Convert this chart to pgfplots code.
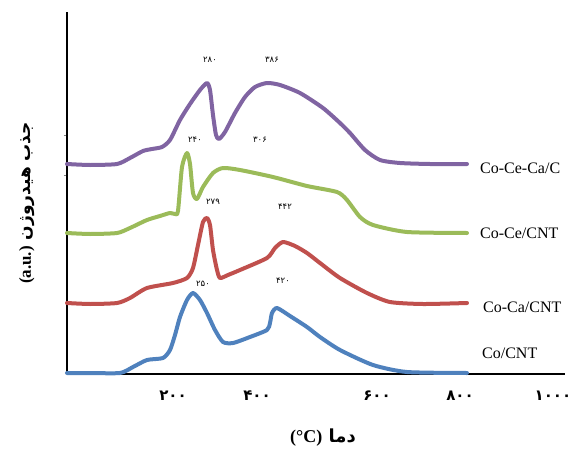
\documentclass[border=0pt]{standalone}
\usepackage{fontspec}
\setmainfont{Liberation Serif}
\newfontfamily\arabicfont[Script=Arabic]{DejaVu Sans}
\TeXXeTstate=1
\usepackage{pgfplots}
\pgfplotsset{compat=1.18}
\definecolor{cpurple}{HTML}{8064A2}
\definecolor{cgreen}{HTML}{9BBB59}
\definecolor{cred}{HTML}{C0504D}
\definecolor{cblue}{HTML}{4F81BD}
\begin{document}
\begin{tikzpicture}
\useasboundingbox (-67pt,-74pt) rectangle (507pt,374pt);
\begin{axis}[
  at={(0,0)}, anchor=south west, scale only axis,
  width=498pt, height=362pt,
  xmin=67, xmax=565, ymin=0, ymax=362,
  axis x line*=bottom, axis y line*=left,
  axis line style={line width=1.5pt, -},
  xtick={173,257,377,460,553},
  xticklabels={۲۰۰,۴۰۰,۶۰۰,۸۰۰,۱۰۰۰},
  xticklabel style={font=\arabicfont\bfseries\fontsize{15}{15}\selectfont, anchor=center, yshift=-19pt},
  xtick style={draw=none},
  ytick={199,239}, yticklabels={,}, ytick style={gray, thin},
  tick align=outside, major tick length=3pt,
  clip=false,
  every axis plot/.append style={line width=4pt, smooth, tension=0.4, mark=none, line join=round, line cap=round},
]
% Co-Ce-Ca/C
\addplot[cpurple] coordinates {(67,210)(90,209)(117,210)(130,216)(143,223)(152,225)(162,227)(170,234)(180,254)(190,270)(200,284)(207,291)(210,284)(213,259)(216,239)(219,235)(225,242)(235,261)(245,277)(255,287)(267,291)(280,289)(300,281)(323,266)(340,251)(350,241)(365,224)(380,214)(400,211)(430,210)(467,210)};
% Co-Ce/CNT
\addplot[cgreen] coordinates {(67,141)(90,140)(117,141)(130,146)(147,154)(160,158)(170,161)(175,160)(178,163)(182,207)(187,221)(190,210)(193,181)(197,175)(203,187)(213,201)(223,206)(240,204)(273,197)(307,188)(337,182)(347,174)(360,157)(373,149)(407,142)(467,141)};
% Co-Ca/CNT
\addplot[cred] coordinates {(67,71)(90,70)(117,71)(130,76)(147,86)(173,91)(187,96)(193,106)(198,129)(203,152)(207,156)(210,149)(213,124)(217,104)(220,96)(228,99)(240,104)(267,116)(275,126)(283,132)(295,128)(307,121)(320,111)(340,96)(367,81)(390,72)(423,70)(467,71)};
% Co/CNT
\addplot[cblue] coordinates {(67,1)(90,1)(120,1)(133,7)(147,14)(163,16)(170,24)(175,39)(180,57)(187,74)(193,81)(200,74)(207,61)(215,44)(223,32)(233,31)(250,37)(267,44)(270,51)(272,61)(277,66)(290,58)(307,47)(320,37)(340,24)(373,9)(407,2)(467,1)};

% series names
\begin{scope}[every node/.style={font=\fontsize{16}{16}\selectfont, anchor=west, inner sep=0pt}]
\node at (axis cs:480,206) {Co-Ce-Ca/C};
\node at (axis cs:480,141) {Co-Ce/CNT};
\node at (axis cs:483,67) {Co-Ca/CNT};
\node at (axis cs:482,21) {Co/CNT};
\end{scope}

% peak temperatures
\begin{scope}[every node/.style={font=\arabicfont\fontsize{8.5}{8.5}\selectfont, inner sep=0pt}]
\node at (axis cs:210,314) {۲۸۰};
\node at (axis cs:272,314) {۳۸۶};
\node at (axis cs:195,234) {۲۴۰};
\node at (axis cs:260,234) {۳۰۶};
\node at (axis cs:213,172) {۲۷۹};
\node at (axis cs:285,167) {۴۴۲};
\node at (axis cs:203,90) {۲۵۰};
\node at (axis cs:283,93) {۴۲۰};
\end{scope}

% axis titles
\node[font=\arabicfont\bfseries\fontsize{18}{18}\selectfont] at (axis cs:323,-64)
  {\beginR دما \beginL{\rmfamily\bfseries (°C)}\endL\endR};
\node[rotate=90, font=\arabicfont\bfseries\fontsize{17}{17}\selectfont] at (axis cs:27,171)
  {\beginR جذب هیدروژن \beginL{\rmfamily\bfseries (a.u.)}\endL\endR};
\end{axis}
\end{tikzpicture}
\end{document}
